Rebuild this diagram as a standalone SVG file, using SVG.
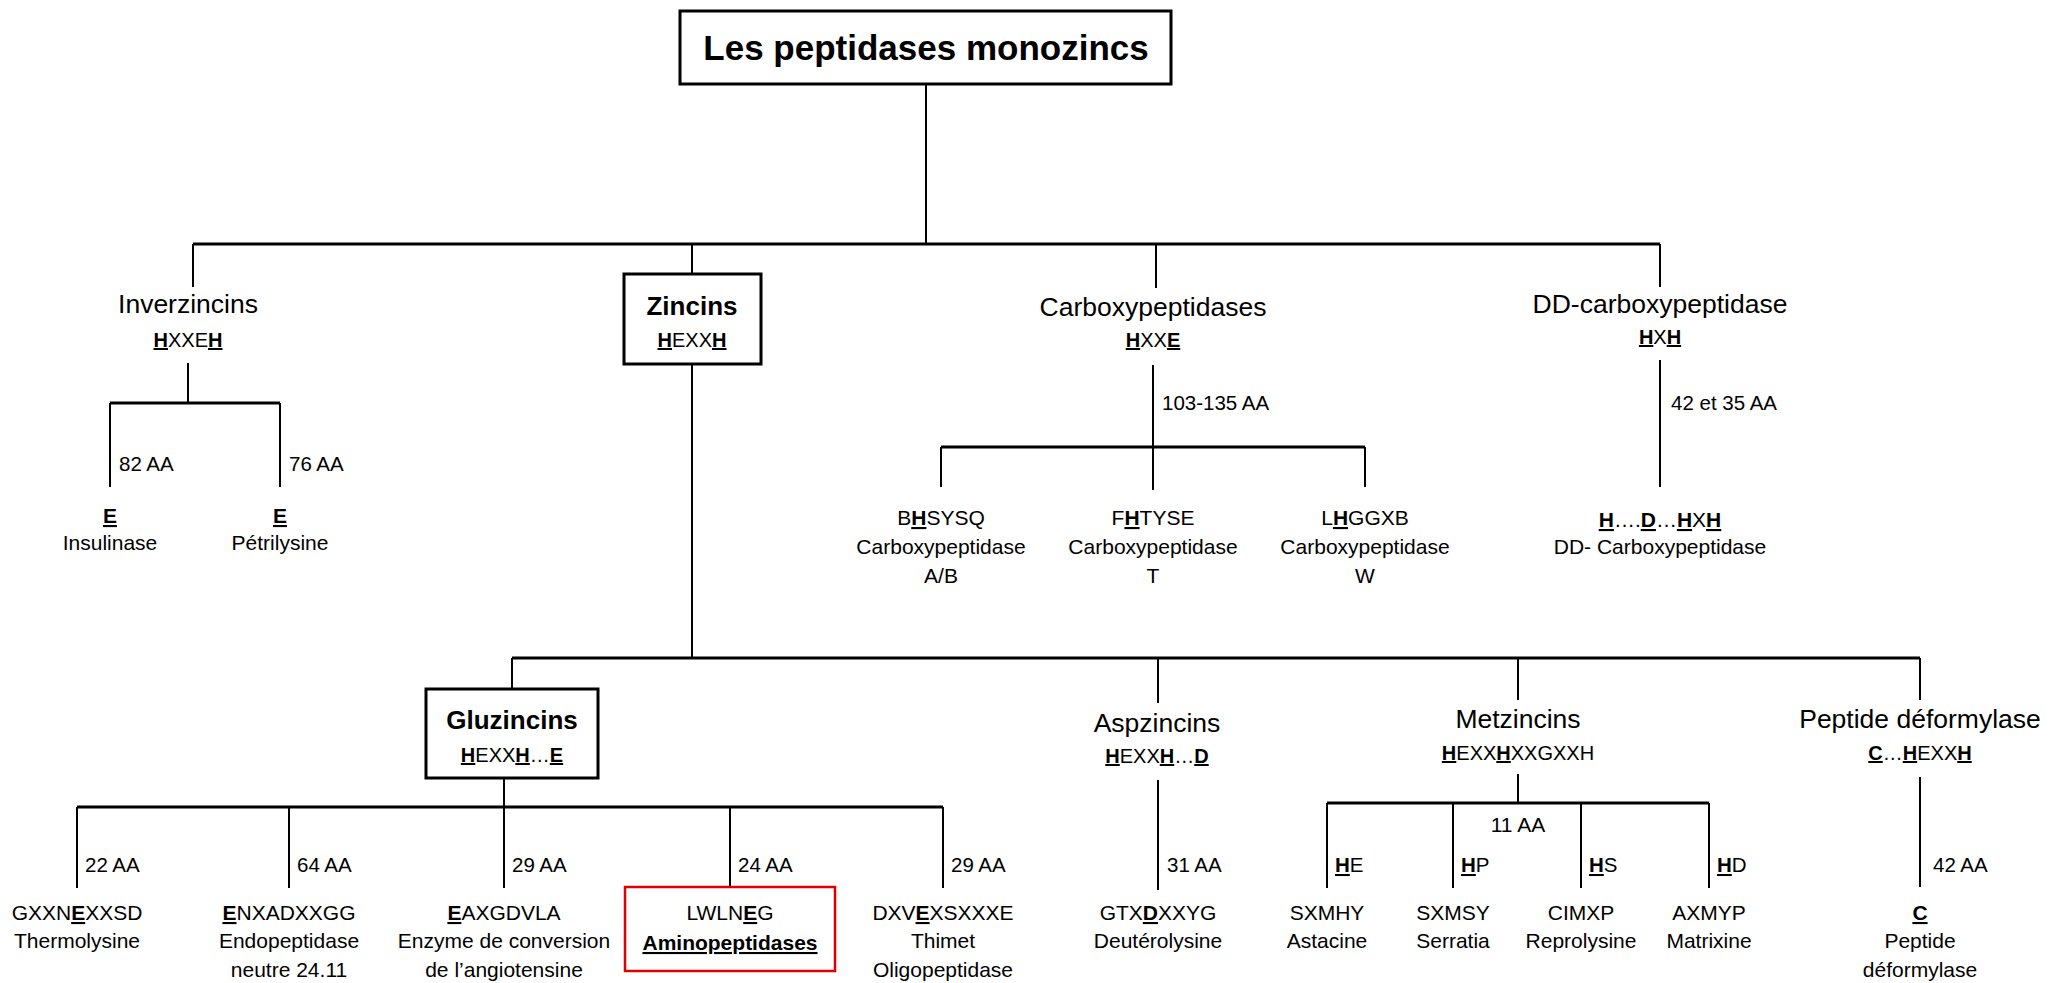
<svg xmlns="http://www.w3.org/2000/svg" width="2067" height="983" viewBox="0 0 2067 983">
<style>
text{font-family:"Liberation Sans",Arial,sans-serif;fill:#000;text-anchor:middle}
.t{font-size:35px;font-weight:bold}
.h{font-size:26.5px}
.hb{font-size:26px;font-weight:bold}
.m{font-size:20px}
.s{font-size:21px}
.l{font-size:20.5px;text-anchor:start}
.u{font-weight:bold;text-decoration:underline}
.ul{text-decoration:underline}
.box{fill:#fff;stroke:#000;stroke-width:3}
.red{fill:none;stroke:#e00000;stroke-width:2.5}
.v{stroke:#000;stroke-width:2;fill:none}
.bar{stroke:#000;stroke-width:3;fill:none}
</style>
<rect width="2067" height="983" fill="#fff"/>
<g id="connectors">
<path class="v" d="M926 84V244M193 244V287M692 244V274M1156 244V288M1660 244V287"/>
<path class="bar" d="M193 244H1660"/>
<path class="v" d="M188 363V403M110 403V487M280 403V487"/>
<path class="bar" d="M110 403H280"/>
<path class="v" d="M1153 365V490M941 447V487M1365 447V487"/>
<path class="bar" d="M941 447H1365"/>
<path class="v" d="M1660 360V487"/>
<path class="v" d="M692 364V658M512 658V689M1158 658V703M1518 658V700M1920 658V700"/>
<path class="bar" d="M512 658H1920"/>
<path class="v" d="M504 778V807M77 807V888M289 807V888M504 807V888M730 807V888M943 807V888"/>
<path class="bar" d="M77 807H943"/>
<path class="v" d="M1158 780V890"/>
<path class="v" d="M1518 774V803M1327 803V888M1453 803V888M1581 803V888M1709 803V888"/>
<path class="bar" d="M1327 803H1709"/>
<path class="v" d="M1920 777V887"/>
</g>
<g id="labels">
<text class="l" x="119" y="471">82 AA</text>
<text class="l" x="289" y="471">76 AA</text>
<text class="l" x="1162" y="410">103-135 AA</text>
<text class="l" x="1671" y="410">42 et 35 AA</text>
<text class="l" x="85" y="872">22 AA</text>
<text class="l" x="297" y="872">64 AA</text>
<text class="l" x="512" y="872">29 AA</text>
<text class="l" x="738" y="872">24 AA</text>
<text class="l" x="951" y="872">29 AA</text>
<text class="l" x="1167" y="872">31 AA</text>
<text class="s" x="1518" y="832">11 AA</text>
<text class="l" x="1933" y="872">42 AA</text>
</g>
<g id="root">
<rect class="box" x="680" y="11" width="491" height="73"/>
<text class="t" x="926" y="60">Les peptidases monozincs</text>
</g>
<g id="inverzincins">
<text class="h" x="188" y="313">Inverzincins</text>
<text class="m" x="188" y="347"><tspan class="u">H</tspan>XXE<tspan class="u">H</tspan></text>
</g>
<g id="insulinase">
<text class="s" x="110" y="523"><tspan class="u">E</tspan></text>
<text class="s" x="110" y="550">Insulinase</text>
</g>
<g id="petrilysine">
<text class="s" x="280" y="523"><tspan class="u">E</tspan></text>
<text class="s" x="280" y="550">Pétrilysine</text>
</g>
<g id="zincins">
<rect class="box" x="624" y="274" width="137" height="90"/>
<text class="hb" x="692" y="315">Zincins</text>
<text class="m" x="692" y="347"><tspan class="u">H</tspan>EXX<tspan class="u">H</tspan></text>
</g>
<g id="carboxypeptidases">
<text class="h" x="1153" y="316">Carboxypeptidases</text>
<text class="m" x="1153" y="347"><tspan class="u">H</tspan>XX<tspan class="u">E</tspan></text>
</g>
<g id="cpab">
<text class="s" x="941" y="525">B<tspan class="u">H</tspan>SYSQ</text>
<text class="s" x="941" y="554">Carboxypeptidase</text>
<text class="s" x="941" y="583">A/B</text>
</g>
<g id="cpt">
<text class="s" x="1153" y="525">F<tspan class="u">H</tspan>TYSE</text>
<text class="s" x="1153" y="554">Carboxypeptidase</text>
<text class="s" x="1153" y="583">T</text>
</g>
<g id="cpw">
<text class="s" x="1365" y="525">L<tspan class="u">H</tspan>GGXB</text>
<text class="s" x="1365" y="554">Carboxypeptidase</text>
<text class="s" x="1365" y="583">W</text>
</g>
<g id="ddcarboxy">
<text class="h" x="1660" y="313">DD-carboxypeptidase</text>
<text class="m" x="1660" y="344"><tspan class="u">H</tspan>X<tspan class="u">H</tspan></text>
</g>
<g id="ddcp">
<text class="s" x="1660" y="527"><tspan class="u">H</tspan>….<tspan class="u">D</tspan>…<tspan class="u">H</tspan>X<tspan class="u">H</tspan></text>
<text class="s" x="1660" y="554">DD- Carboxypeptidase</text>
</g>
<g id="gluzincins">
<rect class="box" x="426" y="689" width="172" height="89"/>
<text class="hb" x="512" y="729">Gluzincins</text>
<text class="m" x="512" y="762"><tspan class="u">H</tspan>EXX<tspan class="u">H</tspan>…<tspan class="u">E</tspan></text>
</g>
<g id="thermolysine">
<text class="s" x="77" y="920">GXXN<tspan class="u">E</tspan>XXSD</text>
<text class="s" x="77" y="948">Thermolysine</text>
</g>
<g id="endopeptidase">
<text class="s" x="289" y="920"><tspan class="u">E</tspan>NXADXXGG</text>
<text class="s" x="289" y="948">Endopeptidase</text>
<text class="s" x="289" y="977">neutre 24.11</text>
</g>
<g id="eca">
<text class="s" x="504" y="920"><tspan class="u">E</tspan>AXGDVLA</text>
<text class="s" x="504" y="948">Enzyme de conversion</text>
<text class="s" x="504" y="977">de l’angiotensine</text>
</g>
<g id="aminopeptidases">
<rect class="red" x="625" y="887" width="210" height="84"/>
<text class="s" x="730" y="920">LWLN<tspan class="u">E</tspan>G</text>
<text class="s" x="730" y="950"><tspan class="u">Aminopeptidases</tspan></text>
</g>
<g id="thimet">
<text class="s" x="943" y="920">DXV<tspan class="u">E</tspan>XSXXXE</text>
<text class="s" x="943" y="948">Thimet</text>
<text class="s" x="943" y="977">Oligopeptidase</text>
</g>
<g id="aspzincins">
<text class="h" x="1157" y="732">Aspzincins</text>
<text class="m" x="1157" y="763"><tspan class="u">H</tspan>EXX<tspan class="u">H</tspan>…<tspan class="u">D</tspan></text>
</g>
<g id="deuterolysine">
<text class="s" x="1158" y="920">GTX<tspan class="u">D</tspan>XXYG</text>
<text class="s" x="1158" y="948">Deutérolysine</text>
</g>
<g id="metzincins">
<text class="h" x="1518" y="728">Metzincins</text>
<text class="m" x="1518" y="760"><tspan class="u">H</tspan>EXX<tspan class="u">H</tspan>XXGXXH</text>
</g>
<g id="astacine">
<text class="l" x="1335" y="872"><tspan class="u">H</tspan>E</text>
<text class="s" x="1327" y="920">SXMHY</text>
<text class="s" x="1327" y="948">Astacine</text>
</g>
<g id="serratia">
<text class="l" x="1461" y="872"><tspan class="u">H</tspan>P</text>
<text class="s" x="1453" y="920">SXMSY</text>
<text class="s" x="1453" y="948">Serratia</text>
</g>
<g id="reprolysine">
<text class="l" x="1589" y="872"><tspan class="u">H</tspan>S</text>
<text class="s" x="1581" y="920">CIMXP</text>
<text class="s" x="1581" y="948">Reprolysine</text>
</g>
<g id="matrixine">
<text class="l" x="1717" y="872"><tspan class="u">H</tspan>D</text>
<text class="s" x="1709" y="920">AXMYP</text>
<text class="s" x="1709" y="948">Matrixine</text>
</g>
<g id="peptidedeformylase">
<text class="h" x="1920" y="728">Peptide déformylase</text>
<text class="m" x="1920" y="760"><tspan class="u">C</tspan>…<tspan class="u">H</tspan>EXX<tspan class="u">H</tspan></text>
</g>
<g id="pdf">
<text class="s" x="1920" y="920"><tspan class="u">C</tspan></text>
<text class="s" x="1920" y="948">Peptide</text>
<text class="s" x="1920" y="977">déformylase</text>
</g>
</svg>
